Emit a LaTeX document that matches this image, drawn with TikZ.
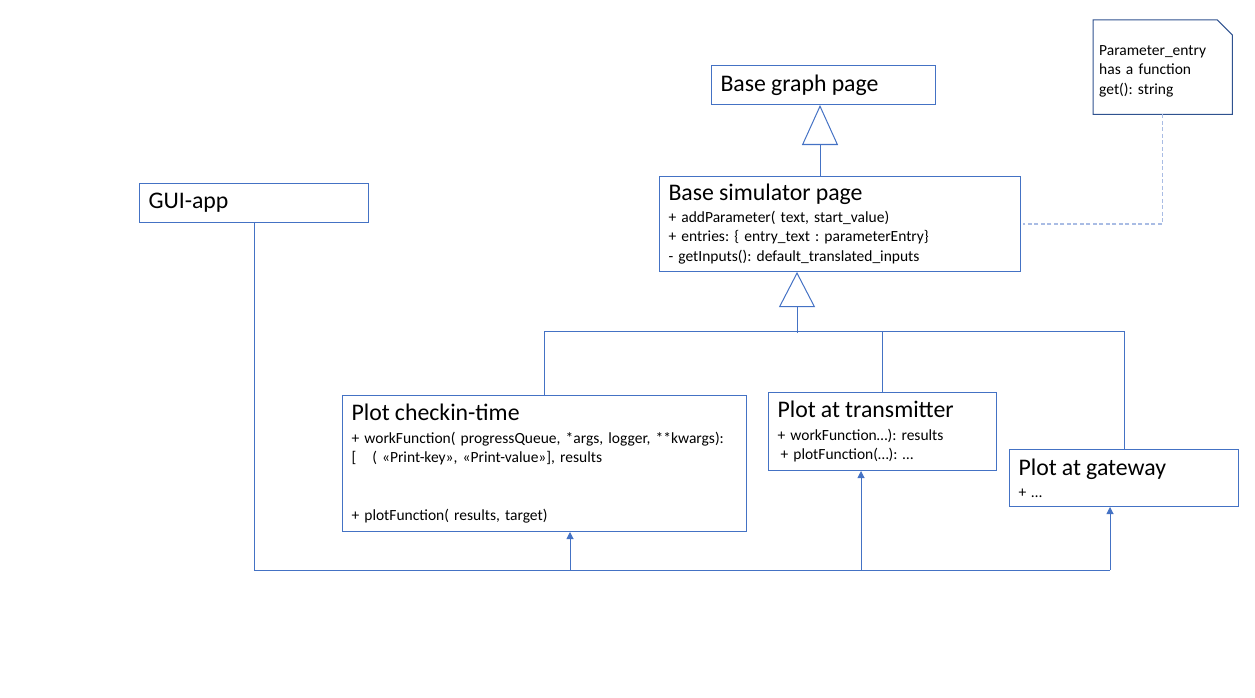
\documentclass[tikz,border=0pt]{standalone}
\usepackage{fontspec}
\setmainfont{Carlito}
\usepackage{tikz}
\usetikzlibrary{arrows.meta}
\definecolor{umlblue}{HTML}{4472C4}
\definecolor{notedark}{HTML}{2F528F}
\definecolor{notedash}{HTML}{A9BCE4}
\newcommand{\classtitle}{\fontsize{23.8}{28}\selectfont}
\frenchspacing
\tikzset{
    block/.style={
           rectangle,
           draw=umlblue, line width=1pt,
           anchor=north west,
           align=left,
           inner xsep=9pt,
           inner ysep=0pt,
           font=\fontsize{15.5}{19.5}\selectfont,
           },
    notebox/.style={
           rectangle,
           %draw=notedark,
           anchor=north west,
           align=left,
           inner xsep=6pt,
           inner ysep=0pt,
           font=\fontsize{15.5}{19.5}\selectfont,
           },
    link/.style={color=umlblue, line width=1pt},
    uses/.style={link, -{Triangle[length=7pt,width=7pt]}},
    inherit/.style={link, -{Triangle[open,length=#1,width=36pt]}},
    notelink/.style={draw=notedash, line width=1.5pt, dash pattern=on 4pt off 2.5pt},
}

\begin{document}
\begin{tikzpicture}[x=1pt, y=1pt]
	\useasboundingbox (0,0) rectangle (1255,-698);

	\node[block, minimum width=224pt, minimum height=39pt, text width=206pt] (basegraph) at (711,-65) {
		{\classtitle Base graph page}
	};

	\node[block, minimum width=361pt, minimum height=95pt, text width=343pt] (simpage) at (659,-176) {
		{\classtitle Base simulator page}\\[2.5pt]
		+ addParameter( text, start\_value)\\
		+ entries: \{ entry\_text : parameterEntry\}\\
		- getInputs(): default\_translated\_inputs
	};

	\node[block, minimum width=229pt, minimum height=39pt, text width=211pt] (gui) at (139,-183) {
		{\classtitle GUI-app}
	};

	\node[block, minimum width=404pt, minimum height=136pt, text width=386pt] (checkin) at (342,-395) {
		{\classtitle Plot checkin-time}\\[3pt]
		+ workFunction( progressQueue, *args, logger, **kwargs):\\
		{[}\hspace{16pt}( «Print-key», «Print-value»], results\\[38pt]
		+ plotFunction( results, target)
	};

	\node[block, minimum width=228pt, minimum height=78pt, text width=210pt] (transmit) at (768,-392) {
		{\classtitle Plot at transmitter}\\[3pt]
		+ workFunction…): results\\
		\hspace{3pt}+ plotFunction(…): …
	};

	\node[block, minimum width=229pt, minimum height=57pt, text width=211pt] (gateway) at (1009,-449) {
		{\classtitle Plot at gateway}\\[2.5pt]
		+ …
	};

	\node[notebox, minimum width=139pt, minimum height=94pt, text width=127pt] (note) at (1093,-20) {
		\rule{0pt}{18pt}Parameter\_entry\\
		has a function\\
		get(): string
	};
	\draw[draw=notedark, line width=1pt] (note.north west) -- ([xshift=-15pt]note.north east)
		-- ([yshift=-15pt]note.north east) -- (note.south east) -- (note.south west) -- cycle;

	% inheritance
	\coordinate (stem) at (820,0);
	\coordinate (fork) at (797,-331);
	\coordinate (forkdrop) at (797,-333);
	\draw[inherit=40pt] (simpage.north -| stem) -- (basegraph.south -| stem);
	\draw[inherit=35pt] (forkdrop) -- (forkdrop |- simpage.south);
	\draw[link] (checkin.north) |- (gateway.north |- fork) -- (gateway.north);
	\draw[link] (transmit.north) -- (transmit.north |- fork);

	% gui bus
	\coordinate (bus1) at (570,-570);
	\coordinate (bus2) at (861,-570);
	\coordinate (bus3) at (1110,-570);
	\draw[link] (gui.south) |- (bus3);
	\draw[uses] (bus1) -- (bus1 |- checkin.south);
	\draw[uses] (bus2) -- (bus2 |- transmit.south);
	\draw[uses] (bus3) -- (bus3 |- gateway.south);

	% note
	\draw[notelink] (note.south) |- ([xshift=2pt]simpage.east);

\end{tikzpicture}
\end{document}
